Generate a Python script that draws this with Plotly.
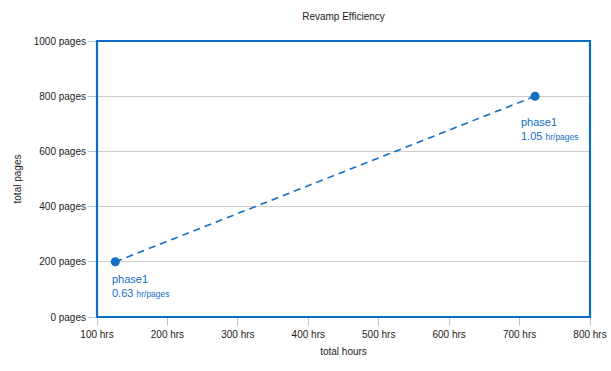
import plotly.graph_objects as go

hours = [126, 722]
pages = [200, 800]
names = ["phase1", "phase1"]
rates = ["0.63", "1.05"]
x_ticks = [100, 200, 300, 400, 500, 600, 700, 800]
x_labels = ["100 hrs", "200 hrs", "300 hrs", "400 hrs", "500 hrs", "600 hrs", "700 hrs", "800 hrs"]
y_ticks = [0, 200, 400, 600, 800, 1000]
y_labels = ["0 pages", "200 pages", "400 pages", "600 pages", "800 pages", "1000 pages"]

blue = "#1170c4"
font = "Liberation Sans, Arial, sans-serif"

fig = go.Figure()
fig.add_trace(go.Scatter(
    x=hours, y=pages, mode="lines",
    line=dict(color=blue, width=1.6, dash="7px,5px"),
    hoverinfo="skip", showlegend=False))
fig.add_trace(go.Scatter(
    x=hours, y=pages, mode="markers",
    marker=dict(color=blue, size=9),
    showlegend=False))

shifts = [(-5, -9), (-16, -18)]
for i in range(len(hours)):
    fig.add_annotation(
        x=hours[i], y=pages[i], xref="x", yref="y",
        text=f"{names[i]}<br>{rates[i]} <span style='font-size:8.5px'>hr/pages</span>",
        showarrow=False, xanchor="left", yanchor="top", align="left",
        xshift=shifts[i][0], yshift=shifts[i][1],
        font=dict(family=font, size=11, color=blue))

fig.add_shape(type="rect", xref="paper", yref="paper", x0=0, y0=0, x1=1, y1=1,
              line=dict(color="#0a6fc2", width=2.2), layer="above")

fig.update_layout(
    width=611, height=371,
    margin=dict(l=97, r=21, t=41, b=54, autoexpand=False),
    paper_bgcolor="white", plot_bgcolor="white",
    font=dict(family=font, size=10, color="#222222"),
    title=dict(text="Revamp Efficiency", x=0.5, xref="paper", y=1, yref="container",
               yanchor="top", pad=dict(t=13), font=dict(size=10, color="#222222")),
    xaxis=dict(range=[100, 800], tickvals=x_ticks, ticktext=x_labels, automargin=False,
               showgrid=False, zeroline=False, ticks="outside", ticklen=8,
               tickcolor="#b8c8da", tickwidth=1,
               title=dict(text="total hours", standoff=8, font=dict(size=10))),
    yaxis=dict(range=[0, 1000], tickvals=y_ticks, ticktext=y_labels, automargin=False,
               showgrid=True, gridcolor="#cccccc", gridwidth=1, zeroline=False,
               ticks="outside", ticklen=8, tickcolor="#b8c8da", tickwidth=1,
               title=dict(text="total pages", standoff=10, font=dict(size=10))),
)

fig.write_html("out.html")
